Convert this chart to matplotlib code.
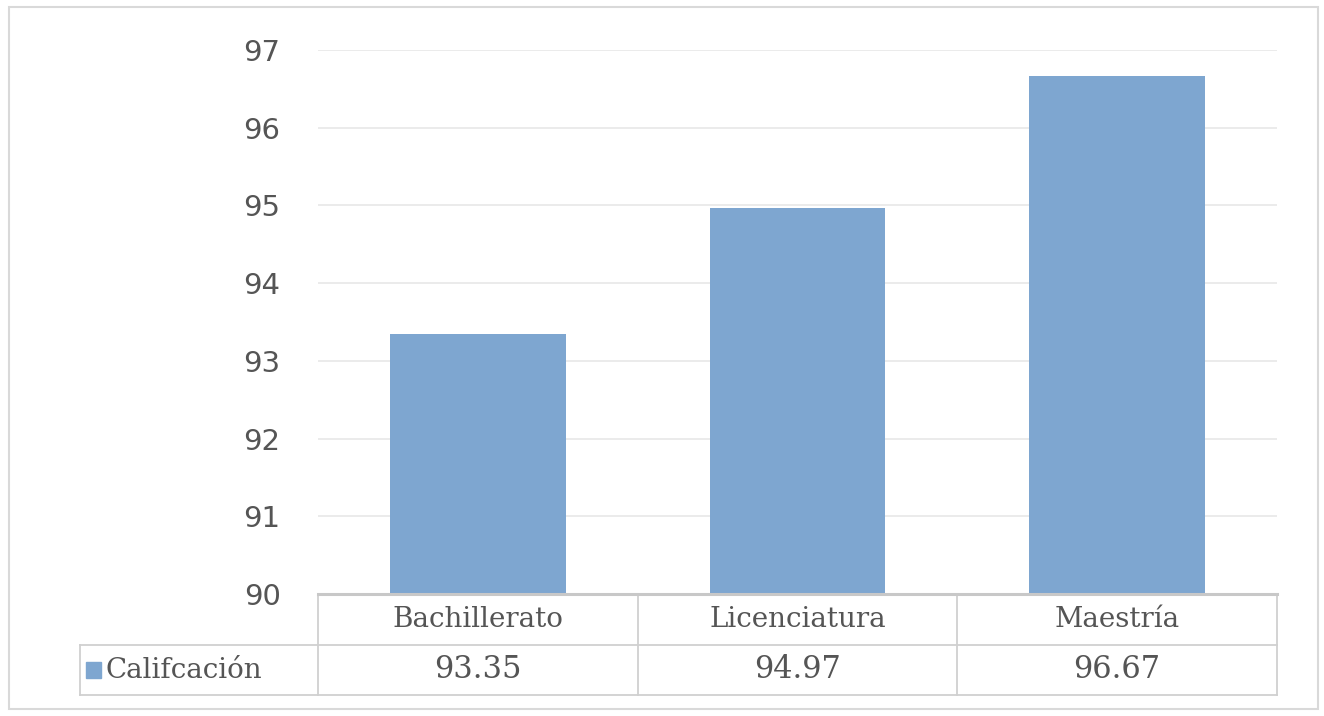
import matplotlib
matplotlib.use("Agg")
import matplotlib.pyplot as plt
from matplotlib.patches import Rectangle
from matplotlib.lines import Line2D

categories = ["Bachillerato", "Licenciatura", "Maestría"]
values = [93.35, 94.97, 96.67]
series_name = "Califcación"
yticks = [90, 91, 92, 93, 94, 95, 96, 97]

bar_color = "#7EA6D0"
text_color = "#555555"
line_color = "#D0D0D0"

fig = plt.figure(figsize=(13.24, 7.16), dpi=100)
W, H = 1324, 716
ax = fig.add_axes([318 / W, 1 - 594 / H, (1277 - 318) / W, (594 - 50) / H])

x = list(range(len(categories)))
ax.bar(x, [v - 90 for v in values], bottom=90, width=0.55, color=bar_color, zorder=3)
ax.set_xlim(-0.5, len(categories) - 0.5)
ax.set_ylim(90, 97)
ax.set_yticks(yticks)
ax.set_yticklabels([str(t) for t in yticks], fontsize=21, color=text_color,
                   family="DejaVu Sans")
ax.tick_params(axis="y", length=0, pad=27)
ax.set_xticks([])
for s in ax.spines.values():
    s.set_visible(False)
ax.grid(axis="y", color="#E8E8E8", linewidth=1.2, zorder=0)

# data table below axes
tr = ax.transAxes
h1 = 51 / 544
h2 = 101 / 544
left_leg = (80 - 318) / 959
lkw = dict(transform=tr, clip_on=False, color=line_color, linewidth=1.3)
ax.add_line(Line2D([0, 1], [0, 0], transform=tr, clip_on=False, color="#C8C8C8", linewidth=2.2, zorder=4))
ax.add_line(Line2D([left_leg, 1], [-h1, -h1], **lkw))
ax.add_line(Line2D([left_leg, 1], [-h2, -h2], **lkw))
for i in range(len(categories) + 1):
    xf = i / len(categories)
    ax.add_line(Line2D([xf, xf], [0, -h2], **lkw))
ax.add_line(Line2D([left_leg, left_leg], [-h1, -h2], **lkw))

serif = ["DejaVu Serif"]
for i, (c, v) in enumerate(zip(categories, values)):
    xc = (i + 0.5) / len(categories)
    ax.text(xc, -h1 / 2, c, transform=tr, ha="center", va="center",
            fontsize=20, color=text_color, family=serif)
    ax.text(xc, -(h1 + h2) / 2, f"{v:.2f}", transform=tr, ha="center", va="center",
            fontsize=22, color=text_color, family=serif)

# legend key in table
ax.add_patch(Rectangle(((86 - 318) / 959, -(h1 + h2) / 2 - 8 / 544), 15 / 959, 16 / 544,
                       transform=tr, clip_on=False, color=bar_color))
ax.text((106 - 318) / 959, -(h1 + h2) / 2, series_name, transform=tr, ha="left", va="center",
        fontsize=20, color=text_color, family=serif)

# outer border
fig.patches.append(Rectangle((9 / W, 7 / H), 1309 / W, 702 / H, transform=fig.transFigure,
                             fill=False, edgecolor="#D9D9D9", linewidth=1.5))

fig.savefig("out.png", dpi=100)
